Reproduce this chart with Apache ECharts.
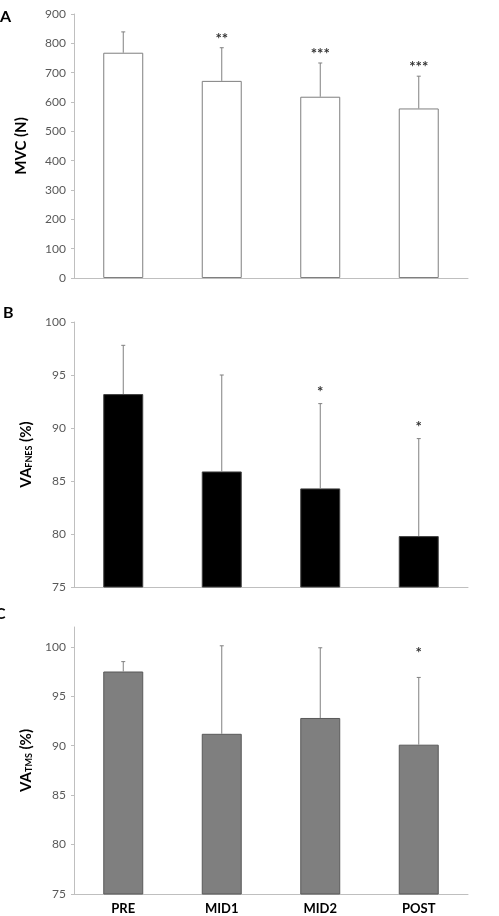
<!DOCTYPE html>
<html>
<head>
<meta charset="utf-8">
<script src="https://cdn.jsdelivr.net/npm/echarts@6/dist/echarts.min.js"></script>
<style>html,body{margin:0;padding:0;background:#fff;}#c{width:499px;height:916px;}</style>
</head>
<body>
<div id="c"></div>
<script>
const categories = ['PRE', 'MID1', 'MID2', 'POST'];
const mvcMean = [768, 672, 618, 578];
const mvcSD = [71, 113, 115, 110];
const mvcSig = ['', '**', '***', '***'];
const fnesMean = [93.2, 85.9, 84.3, 79.8];
const fnesSD = [4.6, 9.1, 8.0, 9.2];
const fnesSig = ['', '', '*', '*'];
const tmsMean = [97.5, 91.2, 92.8, 90.1];
const tmsSD = [1.0, 8.9, 7.1, 6.8];
const tmsSig = ['', '', '', '*'];
const yTicksA = [0, 100, 200, 300, 400, 500, 600, 700, 800, 900];
const yTicksB = [75, 80, 85, 90, 95, 100];
const yTicksC = [75, 80, 85, 90, 95, 100];

const FONT = 'Lato, "Open Sans", sans-serif';
const chart = echarts.init(document.getElementById('c'), null, {renderer: 'canvas'});

function errSeries(idx, mean, sd, sig, starGap) {
  return {
    type: 'custom', xAxisIndex: idx, yAxisIndex: idx, z: 5,
    data: mean.map((m, i) => [i, m, sd[i]]),
    encode: {x: 0, y: 1},
    renderItem: function (params, api) {
      const i = api.value(0), m = api.value(1), s = api.value(2);
      const star = sig[i];
      const p0 = api.coord([i, m]);
      const p1 = api.coord([i, m + s]);
      const st = {stroke: '#808080', lineWidth: 1};
      const children = [
        {type: 'line', shape: {x1: p0[0], y1: p0[1], x2: p1[0], y2: p1[1]}, style: st},
        {type: 'line', shape: {x1: p1[0] - 2, y1: p1[1], x2: p1[0] + 2, y2: p1[1]}, style: st}
      ];
      if (star) {
        children.push({type: 'text', style: {text: star, x: p1[0], y: p1[1] - starGap,
          align: 'center', verticalAlign: 'middle', fill: '#333', font: 'bold 15px ' + FONT}});
      }
      return {type: 'group', children: children};
    }
  };
}

function yAxis(idx, min, max, ticks, name, gap) {
  return {
    gridIndex: idx, type: 'value', min: min, max: max, interval: ticks[1] - ticks[0],
    axisLine: {show: true, lineStyle: {color: '#bfbfbf', width: 1}},
    axisTick: {show: true, length: 3, lineStyle: {color: '#bfbfbf'}, customValues: ticks},
    axisLabel: {color: '#595959', fontSize: 12, fontFamily: FONT, margin: 8, customValues: ticks},
    splitLine: {show: false},
    name: name, nameLocation: 'middle', nameGap: gap, nameRotate: 90,
    nameTextStyle: {color: '#000', fontSize: 15, fontWeight: 'bold', fontFamily: FONT,
      rich: {
        a: {fontSize: 15, fontWeight: 'bold', fontFamily: FONT, color: '#000'},
        s: {fontSize: 9, fontWeight: 'bold', fontFamily: FONT, color: '#000', padding: [7, 0, 0, 0]}
      }}
  };
}

function xAxis(idx, showLabels) {
  return {
    gridIndex: idx, type: 'category', data: categories,
    axisLine: {show: true, lineStyle: {color: '#bfbfbf', width: 1}},
    axisTick: {show: false},
    axisLabel: {show: showLabels, color: '#000', fontSize: 13, fontWeight: 'bold', fontFamily: FONT, margin: 8}
  };
}

const option = {
  animation: false,
  backgroundColor: '#fff',
  graphic: [
    {type: 'text', left: 0, top: 9, style: {text: 'A', font: 'bold 16px ' + FONT, fill: '#000'}},
    {type: 'text', left: 3, top: 305, style: {text: 'B', font: 'bold 16px ' + FONT, fill: '#000'}},
    {type: 'text', left: -5, top: 606, style: {text: 'C', font: 'bold 16px ' + FONT, fill: '#000'}}
  ],
  grid: [
    {left: 74, top: 14, width: 394, height: 264},
    {left: 74, top: 322, width: 394, height: 265},
    {left: 74, top: 627, width: 394, height: 267}
  ],
  xAxis: [xAxis(0, false), xAxis(1, false), xAxis(2, true)],
  yAxis: [
    yAxis(0, 0, 900, yTicksA, 'MVC (N)', 45),
    yAxis(1, 75, 100, yTicksB, '{a|VA}{s|FNES}{a| (%)}', 40),
    yAxis(2, 75, 102, yTicksC, '{a|VA}{s|TMS}{a| (%)}', 40)
  ],
  series: [
    {type: 'bar', xAxisIndex: 0, yAxisIndex: 0, data: mvcMean, barWidth: '40.6%',
      itemStyle: {color: '#ffffff', borderColor: '#7f7f7f', borderWidth: 1}},
    {type: 'bar', xAxisIndex: 1, yAxisIndex: 1, data: fnesMean, barWidth: '40.6%',
      itemStyle: {color: '#000000', borderColor: '#404040', borderWidth: 1}},
    {type: 'bar', xAxisIndex: 2, yAxisIndex: 2, data: tmsMean, barWidth: '40.6%',
      itemStyle: {color: '#7f7f7f', borderColor: '#595959', borderWidth: 1}},
    errSeries(0, mvcMean, mvcSD, mvcSig, 9),
    errSeries(1, fnesMean, fnesSD, fnesSig, 11),
    errSeries(2, tmsMean, tmsSD, tmsSig, 24)
  ]
};
chart.setOption(option);
</script>
</body>
</html>
